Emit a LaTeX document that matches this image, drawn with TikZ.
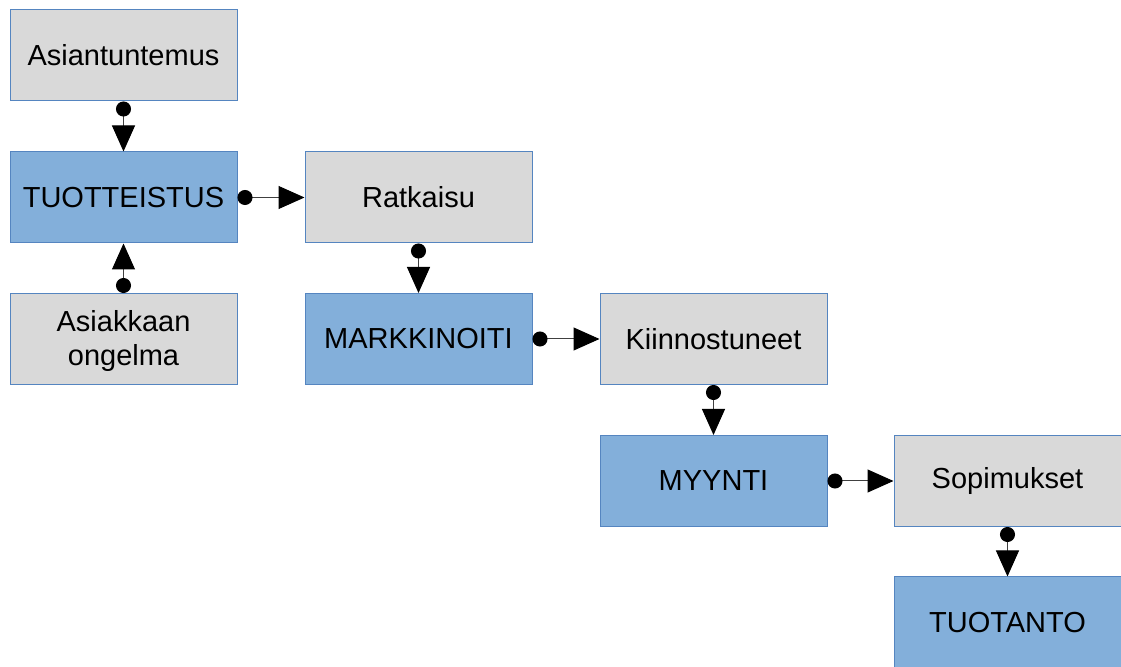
\documentclass[tikz,border=0pt]{standalone}
\usepackage{fontspec}
\setmainfont{Liberation Sans}
\usetikzlibrary{arrows.meta,positioning}
\definecolor{boxgrey}{HTML}{D9D9D9}
\definecolor{boxblue}{HTML}{83AFDA}
\definecolor{boxline}{HTML}{5585C0}

\begin{document}
\begin{tikzpicture}[x=0.5pt,y=0.5pt,
    card/.style={draw=boxline, line width=0.5pt, minimum width=113.5pt, minimum height=45.5pt,
                 inner sep=0pt, align=center, font=\fontsize{14.5}{17}\selectfont},
    greycard/.style={card, fill=boxgrey},
    bluecard/.style={card, fill=boxblue},
    link/.style={draw=black!75, line width=0.5pt,
                 {Circle[length=7.5pt,color=black]}-{Triangle[length=13pt,width=11.5pt,color=black]}}]
    \clip (0,0) rectangle (1121,-667);
    \useasboundingbox (0,0) rectangle (1121,-667);
            % first column
            \node[greycard] (asiantuntemus) at (123.5,-55.5) {Asiantuntemus};
            \node[bluecard] (tuotteistus) at (123.5,-197.5) {TUOTTEISTUS};
            \node[greycard] (ongelma) at (123.5,-339) {\rule{0pt}{13pt}Asiakkaan\\ongelma};
            % second column
            \node[greycard] (ratkaisu) at (418.5,-197.5) {Ratkaisu};
            \node[bluecard] (markkinointi) at (418.5,-339) {MARKKINOITI};
            % third column
            \node[greycard] (kiinnostuneet) at (713.5,-339) {Kiinnostuneet};
            \node[bluecard] (myynti) at (713.5,-481) {MYYNTI};
            % fourth column
            \node[greycard] (sopimukset) at (1007.5,-481) {Sopimukset};
            \node[bluecard] (tuotanto) at (1007.5,-622.5) {TUOTANTO};

            \draw[link] (asiantuntemus) -- (tuotteistus);
            \draw[link] (ongelma.north) -- (tuotteistus);
            \draw[link] (tuotteistus) -- (ratkaisu);
            \draw[link] (ratkaisu) -- (markkinointi);
            \draw[link] (markkinointi) -- (kiinnostuneet);
            \draw[link] (kiinnostuneet) -- (myynti);
            \draw[link] (myynti) -- (sopimukset);
            \draw[link] (sopimukset) -- (tuotanto);
        \end{tikzpicture}
\end{document}
